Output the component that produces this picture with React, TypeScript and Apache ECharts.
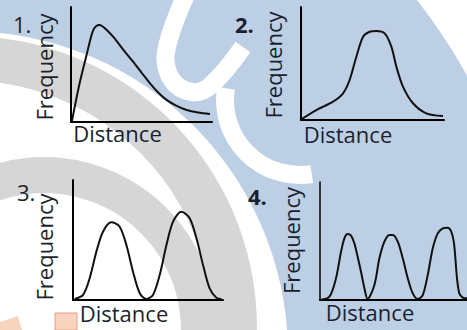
import React, { useEffect, useRef } from 'react';
import * as echarts from 'echarts';

const panelNumbers = ['1.', '2.', '3.', '4.'];
const xAxisName = 'Distance';
const yAxisName = 'Frequency';

// [distance, frequency] (0-100 scale on both axes)
const curve1: number[][] = [
  [0.7, 1], [6, 33], [11, 58], [14, 73], [16, 80.5], [18, 83.5], [20, 84.3], [22, 83.5],
  [25, 80.5], [30, 74], [37, 63], [44, 52.4], [50, 43], [56, 33.6], [62, 25.5],
  [68, 19], [75, 14], [82, 10.4], [90, 8.3], [98.6, 7],
];
const curve2: number[][] = [
  [0.2, 0.6], [10.7, 8.8], [22.4, 16.2], [29.4, 23.6], [34, 35.4], [38.7, 56], [43.4, 73.7],
  [48, 78.1], [52.7, 78.8], [58.5, 76.7], [63.2, 64.9], [66.7, 47.2], [71.3, 29.5],
  [78.3, 14.8], [87.6, 5.9], [99.3, 3.5],
];
const curve3: number[][] = [
  [1.1, 0.8], [6.7, 4.2], [11.1, 18.1], [15.6, 40.3], [20, 56.9], [25.6, 64.7], [31.1, 61.1],
  [35.6, 45.8], [40, 23.6], [44.5, 5.6], [48.9, 0.8], [53.3, 4.2], [57.8, 20.8], [62.3, 45.8],
  [66.7, 65.3], [72.3, 73.6], [77.8, 68.1], [82.3, 51.4], [86.7, 29.2], [91.1, 9.7],
  [95.6, 1.9], [98.9, 0.8],
];
const curve4: number[][] = [
  [0, 0], [6.4, 2.8], [10.9, 18.4], [14.3, 40.9], [16.6, 52.3], [18.8, 55.9], [21.1, 54.5],
  [23.4, 48], [25.6, 36.7], [27.9, 24], [30.2, 9.9], [32.4, 0.8], [37, 12.7], [40.4, 35.3],
  [43.8, 49.4], [47.2, 55.1], [49.5, 55.1], [52.9, 49.4], [56.3, 35.3], [59.7, 18.4],
  [63.1, 5.6], [66.5, 0.8], [69.9, 4.2], [73.3, 21.2], [76.7, 43.8], [80.1, 56.5],
  [83.5, 60.7], [86.9, 61.3], [89.1, 58.5], [91, 49.4], [92.1, 35.3], [93.2, 18.4],
  [94.8, 5.6], [97.1, 2], [100, 1.4],
];
const curves = [curve1, curve2, curve3, curve4];

const TEXT = '#1a1f2e';
const FONT = 'Open Sans';

const panels = [
  { grid: { left: 71, top: 7, width: 141, height: 115 }, num: [13, 24], numBold: false, freq: [44, 67], dist: [117.5, 133], yw: 2 },
  { grid: { left: 301, top: 7, width: 143, height: 113 }, num: [235, 24], numBold: true, freq: [273, 65], dist: [348, 134], yw: 2 },
  { grid: { left: 73, top: 180, width: 150, height: 120 }, num: [17, 191.5], numBold: false, freq: [44, 247], dist: [124, 313], yw: 2 },
  { grid: { left: 320, top: 182, width: 147, height: 118 }, num: [248, 195.5], numBold: true, freq: [291, 240.5], dist: [370, 311.5], yw: 1.5 },
];

export default function App() {
  const ref = useRef<HTMLDivElement>(null);
  useEffect(() => {
    const chart = echarts.init(ref.current!, null, { renderer: 'svg' });

    const background: any[] = [
      { type: 'ring', z: -10, shape: { cx: -35, cy: 354, r: 574, r0: 323 }, style: { fill: '#bccfe4' } },
      { type: 'ring', z: -10, shape: { cx: -34.5, cy: 327.4, r: 291.4, r0: 247 }, style: { fill: '#d6d6d6' } },
      { type: 'ring', z: -10, shape: { cx: 44, cy: 330, r: 173, r0: 137 }, style: { fill: '#d6d6d6' } },
      {
        type: 'polyline', z: -9,
        shape: { points: [[186, -5], [166, 52], [172, 80], [192, 92], [210, 86], [243, 47]], smooth: 0.4 },
        style: { stroke: '#ffffff', lineWidth: 18, fill: null },
      },
      {
        type: 'arc', z: -9,
        shape: { cx: 300, cy: 100, r: 75, startAngle: Math.PI * 0.45, endAngle: Math.PI * 1.05 },
        style: { stroke: '#ffffff', lineWidth: 18, fill: null },
      },
      { type: 'rect', z: -9, shape: { x: 55, y: 313, width: 22, height: 17 }, style: { fill: '#f7d4bd', stroke: '#ef9a8a', lineWidth: 1 } },
      { type: 'polygon', z: -9, shape: { points: [[0, 322], [18, 316], [22, 330], [0, 330]] }, style: { fill: '#f7d4bd' } },
    ];

    const texts: any[] = [];
    panels.forEach((p, i) => {
      texts.push({
        type: 'text', z: 100, x: p.num[0], y: p.num[1],
        style: { text: panelNumbers[i], fontFamily: FONT, fontSize: 22, fontWeight: p.numBold ? 'bold' : 'normal', fill: TEXT, align: 'left', verticalAlign: 'middle' },
      });
      texts.push({
        type: 'text', z: 100, x: p.freq[0], y: p.freq[1], rotation: Math.PI / 2,
        style: { text: yAxisName, fontFamily: FONT, fontSize: 22, fill: TEXT, align: 'center', verticalAlign: 'middle' },
      });
      texts.push({
        type: 'text', z: 100, x: p.dist[0], y: p.dist[1],
        style: { text: xAxisName, fontFamily: FONT, fontSize: 22, fill: TEXT, align: 'center', verticalAlign: 'middle' },
      });
    });

    const option: any = {
      animation: false,
      backgroundColor: '#ffffff',
      grid: panels.map((p) => ({ ...p.grid, containLabel: false })),
      xAxis: panels.map((p, i) => ({
        type: 'value', gridIndex: i, min: 0, max: 100,
        axisLine: { show: true, onZero: false, lineStyle: { color: '#000', width: 2 } },
        axisTick: { show: false }, axisLabel: { show: false }, splitLine: { show: false },
      })),
      yAxis: panels.map((p, i) => ({
        type: 'value', gridIndex: i, min: 0, max: 100,
        axisLine: { show: true, onZero: false, lineStyle: { color: '#000', width: p.yw } },
        axisTick: { show: false }, axisLabel: { show: false }, splitLine: { show: false },
      })),
      series: curves.map((c, i) => ({
        type: 'line', xAxisIndex: i, yAxisIndex: i, data: c,
        smooth: 0.3, symbol: 'none', z: 5,
        lineStyle: { color: '#111', width: 2 },
      })),
      graphic: { elements: [...background, ...texts] },
    };
    chart.setOption(option);
    return () => chart.dispose();
  }, []);
  return <div ref={ref} style={{ position: 'fixed', left: 0, top: 0, width: 467, height: 330 }} />;
}
